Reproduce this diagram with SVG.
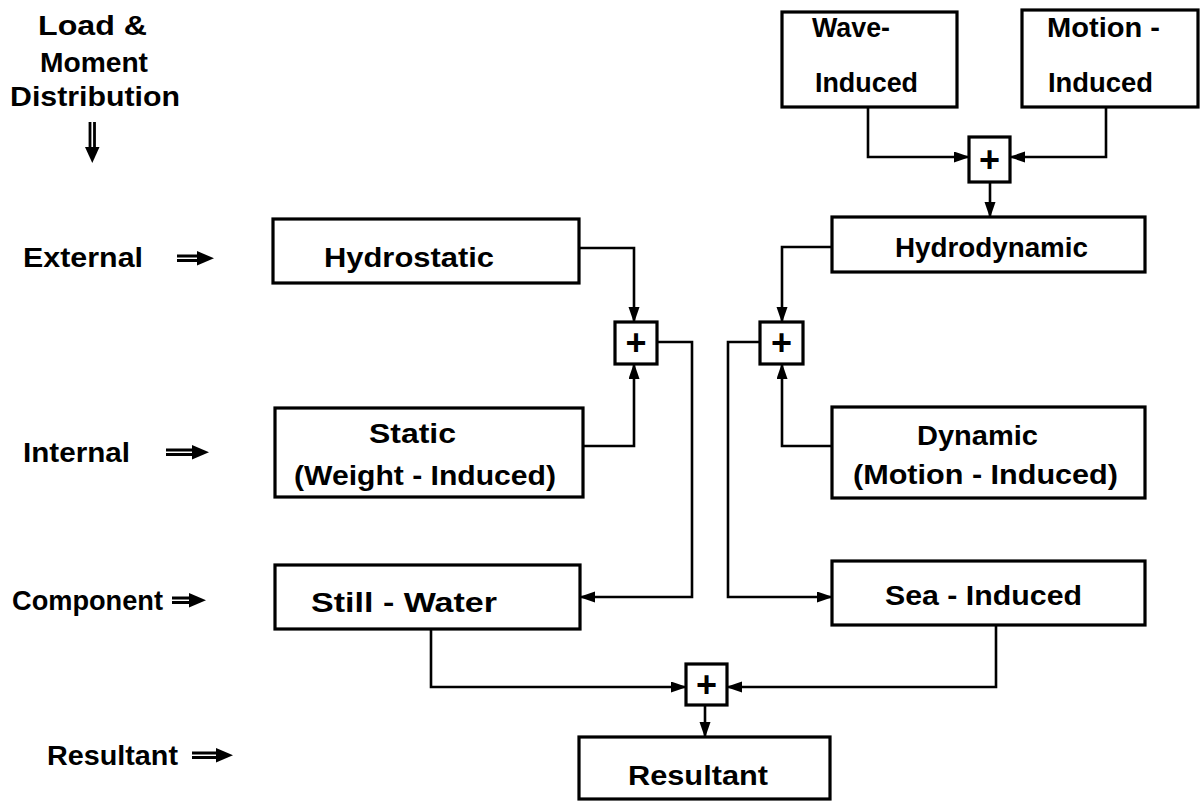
<svg xmlns="http://www.w3.org/2000/svg" width="1201" height="801" viewBox="0 0 1201 801">
<style>
.box{fill:#fff;stroke:#000;stroke-width:3.2}
.t{font-family:"Liberation Sans",Arial,sans-serif;font-weight:bold;font-size:27px;fill:#000}
.plus{font-family:"Liberation Sans",Arial,sans-serif;font-weight:bold;font-size:36px;fill:#000;text-anchor:middle}
.c{fill:none;stroke:#000;stroke-width:2.6;marker-end:url(#ah)}
.dbl{stroke:#000;stroke-width:2.8;fill:none}
</style>
<defs>
<marker id="ah" markerUnits="userSpaceOnUse" markerWidth="18" markerHeight="12" refX="15" refY="5.5" orient="auto">
<path d="M0,0 L16,5.5 L0,11 Z" fill="#000"/>
</marker>
</defs>
<rect width="1201" height="801" fill="#fff"/>

<g id="legend">
<text class="t" x="38" y="35" textLength="109" lengthAdjust="spacingAndGlyphs">Load &amp;</text>
<text class="t" x="40" y="72" textLength="108" lengthAdjust="spacingAndGlyphs">Moment</text>
<text class="t" x="10" y="106" textLength="170" lengthAdjust="spacingAndGlyphs">Distribution</text>
<path class="dbl" d="M90,122 V150 M94.5,122 V150"/>
<path d="M85,147 L99.5,147 L92.3,163 Z" fill="#000"/>
</g>

<g id="row-labels">
<text class="t" x="23" y="267" textLength="120" lengthAdjust="spacingAndGlyphs">External</text>
<path class="dbl" d="M177,256 H200 M177,260.5 H200"/>
<path d="M197,251 L214,258.3 L197,265.5 Z" fill="#000"/>
<text class="t" x="23" y="462" textLength="107" lengthAdjust="spacingAndGlyphs">Internal</text>
<path class="dbl" d="M166,450 H195 M166,454.5 H195"/>
<path d="M192,445 L209,452.3 L192,459.5 Z" fill="#000"/>
<text class="t" x="12" y="610" textLength="151" lengthAdjust="spacingAndGlyphs">Component</text>
<path class="dbl" d="M172,598 H192 M172,602.5 H192"/>
<path d="M189,593 L206,600.3 L189,607.5 Z" fill="#000"/>
<text class="t" x="47" y="765" textLength="131" lengthAdjust="spacingAndGlyphs">Resultant</text>
<path class="dbl" d="M192,753 H219 M192,757.5 H219"/>
<path d="M216,748 L233,755.3 L216,762.5 Z" fill="#000"/>
</g>

<g id="connectors">
<path class="c" d="M868,107 V157 H969"/>
<path class="c" d="M1106,107 V157 H1010"/>
<path class="c" d="M990,182 V217"/>
<path class="c" d="M832,247 H782 V322"/>
<path class="c" d="M832,446 H782 V364"/>
<path class="c" d="M579,248 H634 V322"/>
<path class="c" d="M583,446 H634 V364"/>
<path class="c" d="M657,342 H692 V597 H580"/>
<path class="c" d="M760,342 H728 V597 H832"/>
<path class="c" d="M431,629 V687 H686"/>
<path class="c" d="M996,625 V687 H727"/>
<path class="c" d="M705,705 V737"/>
</g>

<g id="wave-induced">
<rect class="box" x="782" y="12" width="175" height="95"/>
<text class="t" x="812" y="37" textLength="78" lengthAdjust="spacingAndGlyphs">Wave-</text>
<text class="t" x="815" y="92" textLength="103" lengthAdjust="spacingAndGlyphs">Induced</text>
</g>
<g id="motion-induced">
<rect class="box" x="1022" y="10" width="176" height="97"/>
<text class="t" x="1047" y="37" textLength="113" lengthAdjust="spacingAndGlyphs">Motion -</text>
<text class="t" x="1048" y="92" textLength="105" lengthAdjust="spacingAndGlyphs">Induced</text>
</g>
<g id="sum-top">
<rect class="box" x="969" y="137" width="41" height="45"/>
<text class="plus" x="989.5" y="172">+</text>
</g>
<g id="hydrodynamic">
<rect class="box" x="832" y="217" width="313" height="55"/>
<text class="t" x="895" y="257" textLength="193" lengthAdjust="spacingAndGlyphs">Hydrodynamic</text>
</g>
<g id="hydrostatic">
<rect class="box" x="273" y="219" width="306" height="64"/>
<text class="t" x="324" y="267" textLength="170" lengthAdjust="spacingAndGlyphs">Hydrostatic</text>
</g>
<g id="sum-left">
<rect class="box" x="615" y="322" width="42" height="42"/>
<text class="plus" x="636" y="355">+</text>
</g>
<g id="sum-right">
<rect class="box" x="760" y="322" width="43" height="42"/>
<text class="plus" x="781.5" y="355">+</text>
</g>
<g id="static">
<rect class="box" x="275" y="408" width="308" height="89"/>
<text class="t" x="369" y="443" textLength="87" lengthAdjust="spacingAndGlyphs">Static</text>
<text class="t" x="294" y="485" textLength="262" lengthAdjust="spacingAndGlyphs">(Weight - Induced)</text>
</g>
<g id="dynamic">
<rect class="box" x="832" y="407" width="313" height="91"/>
<text class="t" x="917" y="445" textLength="121" lengthAdjust="spacingAndGlyphs">Dynamic</text>
<text class="t" x="853" y="484" textLength="265" lengthAdjust="spacingAndGlyphs">(Motion - Induced)</text>
</g>
<g id="still-water">
<rect class="box" x="275" y="565" width="305" height="64"/>
<text class="t" x="311" y="612" textLength="186" lengthAdjust="spacingAndGlyphs">Still - Water</text>
</g>
<g id="sea-induced">
<rect class="box" x="832" y="561" width="313" height="64"/>
<text class="t" x="885" y="605" textLength="197" lengthAdjust="spacingAndGlyphs">Sea - Induced</text>
</g>
<g id="sum-bottom">
<rect class="box" x="686" y="664" width="41" height="41"/>
<text class="plus" x="706.5" y="697">+</text>
</g>
<g id="resultant">
<rect class="box" x="579" y="737" width="251" height="62"/>
<text class="t" x="628" y="785" textLength="140" lengthAdjust="spacingAndGlyphs">Resultant</text>
</g>
</svg>
